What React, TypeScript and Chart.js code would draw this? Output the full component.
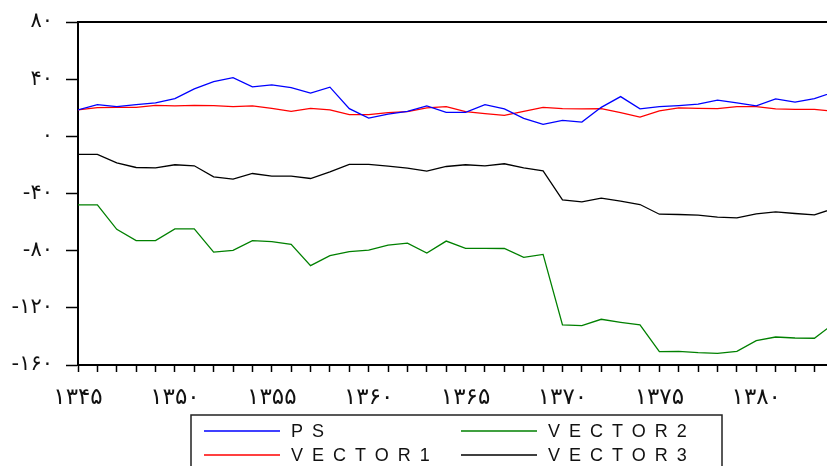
import React, { useEffect, useRef } from "react";
import { Chart, registerables } from "chart.js";

Chart.register(...registerables);

const years = [
  1345, 1346, 1347, 1348, 1349, 1350, 1351, 1352, 1353, 1354,
  1355, 1356, 1357, 1358, 1359, 1360, 1361, 1362, 1363, 1364,
  1365, 1366, 1367, 1368, 1369, 1370, 1371, 1372, 1373, 1374,
  1375, 1376, 1377, 1378, 1379, 1380, 1381, 1382, 1383, 1384,
];

const ps = [
  18.5, 22.2, 20.8, 22.2, 23.4, 26.4, 33.2, 38.3, 41.1, 34.6,
  36.0, 34.1, 30.2, 34.4, 19.4, 12.8, 15.6, 17.5, 21.3, 16.8,
  16.8, 22.2, 19.2, 12.6, 8.4, 11.2, 10.0, 20.3, 27.8, 19.2,
  20.8, 21.5, 22.5, 25.3, 23.4, 21.3, 26.2, 23.9, 26.4, 31.0,
];

const vector1 = [
  18.5, 20.1, 20.3, 20.3, 21.7, 21.3, 21.7, 21.5, 20.8, 21.3,
  19.6, 17.5, 19.6, 18.5, 15.2, 15.2, 16.6, 17.3, 19.9, 20.8,
  17.3, 15.9, 14.7, 17.5, 20.3, 19.4, 19.2, 19.4, 16.6, 13.5,
  17.8, 19.9, 19.6, 19.4, 20.8, 20.8, 19.2, 18.9, 18.9, 17.5,
];

const vector2 = [
  -48.0, -48.0, -65.1, -73.0, -73.0, -64.8, -64.8, -81.0, -79.8, -73.0,
  -73.7, -75.6, -90.5, -83.5, -80.7, -79.6, -76.1, -74.7, -81.7, -73.3,
  -78.4, -78.4, -78.5, -84.7, -82.6, -131.9, -132.4, -128.0, -130.1, -131.9,
  -150.7, -150.5, -151.4, -151.8, -150.5, -143.0, -140.4, -141.1, -141.3, -131.0,
];

const vector3 = [
  -12.6, -12.6, -18.5, -21.8, -22.0, -19.9, -20.6, -28.3, -30.0, -26.0,
  -27.9, -27.9, -29.5, -24.8, -19.6, -19.6, -20.8, -22.2, -24.4, -21.1,
  -19.9, -20.6, -19.2, -22.0, -24.1, -44.5, -45.9, -43.3, -45.4, -47.7,
  -54.5, -54.7, -55.2, -56.6, -57.1, -54.3, -52.9, -54.0, -55.0, -50.5,
];

const seriesNames = ["PS", "VECTOR1", "VECTOR2", "VECTOR3"];
const seriesColors = ["#0000ff", "#ff0000", "#008000", "#000000"];
const seriesValues = [ps, vector1, vector2, vector3];

const yTicks = [80, 40, 0, -40, -80, -120, -160];

const persianDigits = "۰۱۲۳۴۵۶۷۸۹";
const toFa = (n: number) => {
  const s = String(Math.abs(n)).replace(/\d/g, (d) => persianDigits[Number(d)]);
  return n < 0 ? "-" + s : s;
};

const legendPlugin = {
  id: "boxLegend",
  afterDraw(chart: any) {
    const ctx = chart.ctx as CanvasRenderingContext2D;
    ctx.save();
    const { left, right, top } = chart.chartArea;
    ctx.strokeStyle = "#000";
    ctx.lineWidth = 2;
    ctx.beginPath();
    ctx.moveTo(left - 1, top);
    ctx.lineTo(right, top);
    ctx.stroke();

    ctx.strokeStyle = "#222";
    ctx.lineWidth = 1.5;
    ctx.strokeRect(191, 415, 531, 70);

    const cols = [
      { lineX: 204, textX: 291 },
      { lineX: 461, textX: 548 },
    ];
    const rows = [431, 455];
    ctx.font = "18px 'Liberation Sans', Arial, sans-serif";
    (ctx as any).letterSpacing = "9px";
    ctx.textBaseline = "middle";
    ctx.textAlign = "left";
    chart.data.datasets.forEach((ds: any, i: number) => {
      const c = cols[Math.floor(i / 2)];
      const y = rows[i % 2];
      ctx.strokeStyle = ds.borderColor;
      ctx.lineWidth = 1.3;
      ctx.beginPath();
      ctx.moveTo(c.lineX, y);
      ctx.lineTo(c.lineX + 76, y);
      ctx.stroke();
      ctx.fillStyle = "#111";
      ctx.fillText(ds.label, c.textX, y + 1);
    });
    ctx.restore();
  },
};

export default function App() {
  const ref = useRef<HTMLCanvasElement | null>(null);

  useEffect(() => {
    if (!ref.current) return;
    const chart = new Chart(ref.current, {
      type: "line",
      data: {
        datasets: seriesNames.map((name, i) => ({
          label: name,
          data: years.map((yr, j) => ({ x: yr, y: seriesValues[i][j] })),
          borderColor: seriesColors[i],
          backgroundColor: seriesColors[i],
          borderWidth: 1.3,
          pointRadius: 0,
          tension: 0,
          fill: false,
        })),
      },
      options: {
        animation: false,
        responsive: false,
        maintainAspectRatio: false,
        layout: { padding: { top: 22, left: 0, right: 0, bottom: 0 } },
        plugins: {
          legend: { display: false },
          tooltip: { enabled: false },
        },
        scales: {
          x: {
            type: "linear",
            min: 1345,
            max: 1383.65,
            afterFit: (s: any) => {
              s.height = 101;
              s.paddingLeft = 0;
              s.paddingRight = 0;
            },
            ticks: {
              stepSize: 1,
              includeBounds: false,
              autoSkip: false,
              maxRotation: 0,
              minRotation: 0,
              padding: 12,
              color: "#111",
              font: { family: "'DejaVu Sans'", size: 23 },
              callback: (v: any) => (Number(v) % 5 === 0 ? toFa(Number(v)) : ""),
            },
            grid: {
              drawOnChartArea: false,
              drawTicks: true,
              tickLength: 7,
              tickColor: "#000",
              tickWidth: 1.5,
            },
            border: { display: true, color: "#000", width: 2 },
          },
          y: {
            type: "linear",
            min: -160,
            max: 80,
            afterFit: (s: any) => {
              s.width = 78;
              s.paddingTop = 0;
              s.paddingBottom = 0;
            },
            afterBuildTicks: (s: any) => {
              s.ticks = yTicks.map((v) => ({ value: v }));
            },
            ticks: {
              stepSize: 40,
              padding: 13,
              color: "#111",
              font: { family: "'DejaVu Sans'", size: 21 },
              callback: (v: any) => toFa(Number(v)),
            },
            grid: {
              drawOnChartArea: false,
              drawTicks: true,
              tickLength: 12,
              tickColor: "#000",
              tickWidth: 1.5,
            },
            border: { display: true, color: "#000", width: 2 },
          },
        },
      },
      plugins: [legendPlugin],
    });
    return () => chart.destroy();
  }, []);

  return (
    <div style={{ position: "absolute", left: 0, top: 0, width: 827, height: 466, background: "#fff" }}>
      <canvas ref={ref} width={827} height={466} />
    </div>
  );
}
